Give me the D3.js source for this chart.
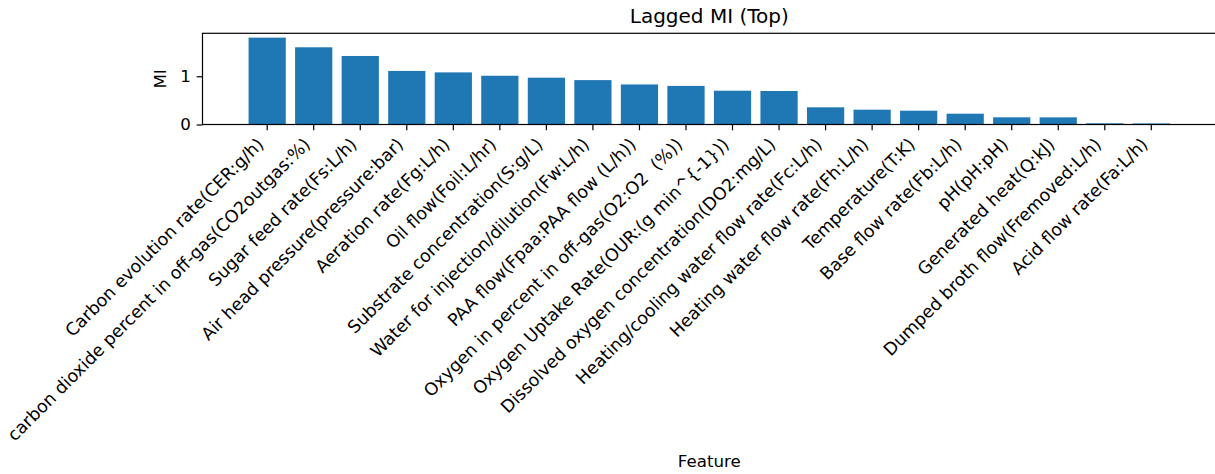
<!DOCTYPE html>
<html>
<head>
<meta charset="utf-8">
<script src="https://cdn.jsdelivr.net/npm/d3@7"></script>
<style>
  html, body { margin: 0; padding: 0; background: #fff; }
  svg { display: block; font-family: "DejaVu Sans", sans-serif; }
  text { white-space: pre; }
</style>
</head>
<body>
<svg id="chart" width="1215" height="474"></svg>
<script>
// Lagged mutual information per process feature, sorted descending
const features = [
  "Carbon evolution rate(CER:g/h)",
  "carbon dioxide percent in off-gas(CO2outgas:%)",
  "Sugar feed rate(Fs:L/h)",
  "Air head pressure(pressure:bar)",
  "Aeration rate(Fg:L/h)",
  "Oil flow(Foil:L/hr)",
  "Substrate concentration(S:g/L)",
  "Water for injection/dilution(Fw:L/h)",
  "PAA flow(Fpaa:PAA flow (L/h))",
  "Oxygen in percent in off-gas(O2:O2  (%))",
  "Oxygen Uptake Rate(OUR:(g min^{-1}))",
  "Dissolved oxygen concentration(DO2:mg/L)",
  "Heating/cooling water flow rate(Fc:L/h)",
  "Heating water flow rate(Fh:L/h)",
  "Temperature(T:K)",
  "Base flow rate(Fb:L/h)",
  "pH(pH:pH)",
  "Generated heat(Q:kJ)",
  "Dumped broth flow(Fremoved:L/h)",
  "Acid flow rate(Fa:L/h)"
];
const miValues = [
  1.80, 1.60, 1.42, 1.11, 1.08, 1.01, 0.97, 0.92, 0.83, 0.80,
  0.70, 0.695, 0.356, 0.307, 0.286, 0.224, 0.149, 0.148, 0.025, 0.022
];
const yTicks = [0, 1];

const title = "Lagged MI (Top)";
const xTitle = "Feature";
const yTitle = "MI";

const FONT = "DejaVu Sans, sans-serif";
const svg = d3.select("#chart");
const plot = { left: 202.5, right: 1216, top: 33.3, bottom: 124.5 };

const x = d3.scaleBand()
  .domain(d3.range(features.length))
  .range([plot.left, plot.right])
  .paddingInner(0.2)
  .paddingOuter(0.99);

const y = d3.scaleLinear()
  .domain([0, d3.max(miValues) * 1.05])
  .range([plot.bottom, plot.top]);

// bars
svg.append("g")
  .selectAll("rect")
  .data(miValues)
  .join("rect")
  .attr("x", (d, i) => x(i))
  .attr("width", x.bandwidth())
  .attr("y", d => y(d))
  .attr("height", d => y(0) - y(d))
  .attr("fill", "#1f77b4");

// x axis with rotated feature names
const xAxis = svg.append("g")
  .attr("transform", `translate(0,${plot.bottom})`)
  .call(d3.axisBottom(x).tickSize(5.8).tickSizeOuter(0).tickFormat(i => features[i]))
  .attr("font-family", FONT)
  .attr("font-size", 17.4);
xAxis.select(".domain").remove();
xAxis.selectAll(".tick line").attr("stroke", "#000").attr("stroke-width", 1.2);
xAxis.selectAll(".tick text")
  .attr("fill", "#000")
  .attr("text-anchor", "end")
  .attr("dy", null)
  .attr("y", null)
  .attr("transform", "translate(-2.5,21) rotate(-45)");

// y axis
const yAxis = svg.append("g")
  .attr("transform", `translate(${plot.left},0)`)
  .call(d3.axisLeft(y).tickValues(yTicks).tickSize(5.8).tickPadding(5.8).tickFormat(d3.format("d")))
  .attr("font-family", FONT)
  .attr("font-size", 16.67);
yAxis.select(".domain").remove();
yAxis.selectAll(".tick line").attr("stroke", "#000").attr("stroke-width", 1.2);
yAxis.selectAll(".tick text").attr("fill", "#000");

// frame
svg.append("rect")
  .attr("x", plot.left)
  .attr("y", plot.top)
  .attr("width", plot.right - plot.left)
  .attr("height", plot.bottom - plot.top)
  .attr("fill", "none")
  .attr("stroke", "#000")
  .attr("stroke-width", 1.2);

// titles
svg.append("text")
  .attr("x", (plot.left + plot.right) / 2)
  .attr("y", 22.7)
  .attr("text-anchor", "middle")
  .attr("font-size", 20)
  .attr("fill", "#000")
  .text(title);

svg.append("text")
  .attr("x", (plot.left + plot.right) / 2)
  .attr("y", 467)
  .attr("text-anchor", "middle")
  .attr("font-size", 16.67)
  .attr("fill", "#000")
  .text(xTitle);

svg.append("text")
  .attr("transform", `translate(166,${(plot.top + plot.bottom) / 2}) rotate(-90)`)
  .attr("text-anchor", "middle")
  .attr("font-size", 16.67)
  .attr("fill", "#000")
  .text(yTitle);
</script>
</body>
</html>
